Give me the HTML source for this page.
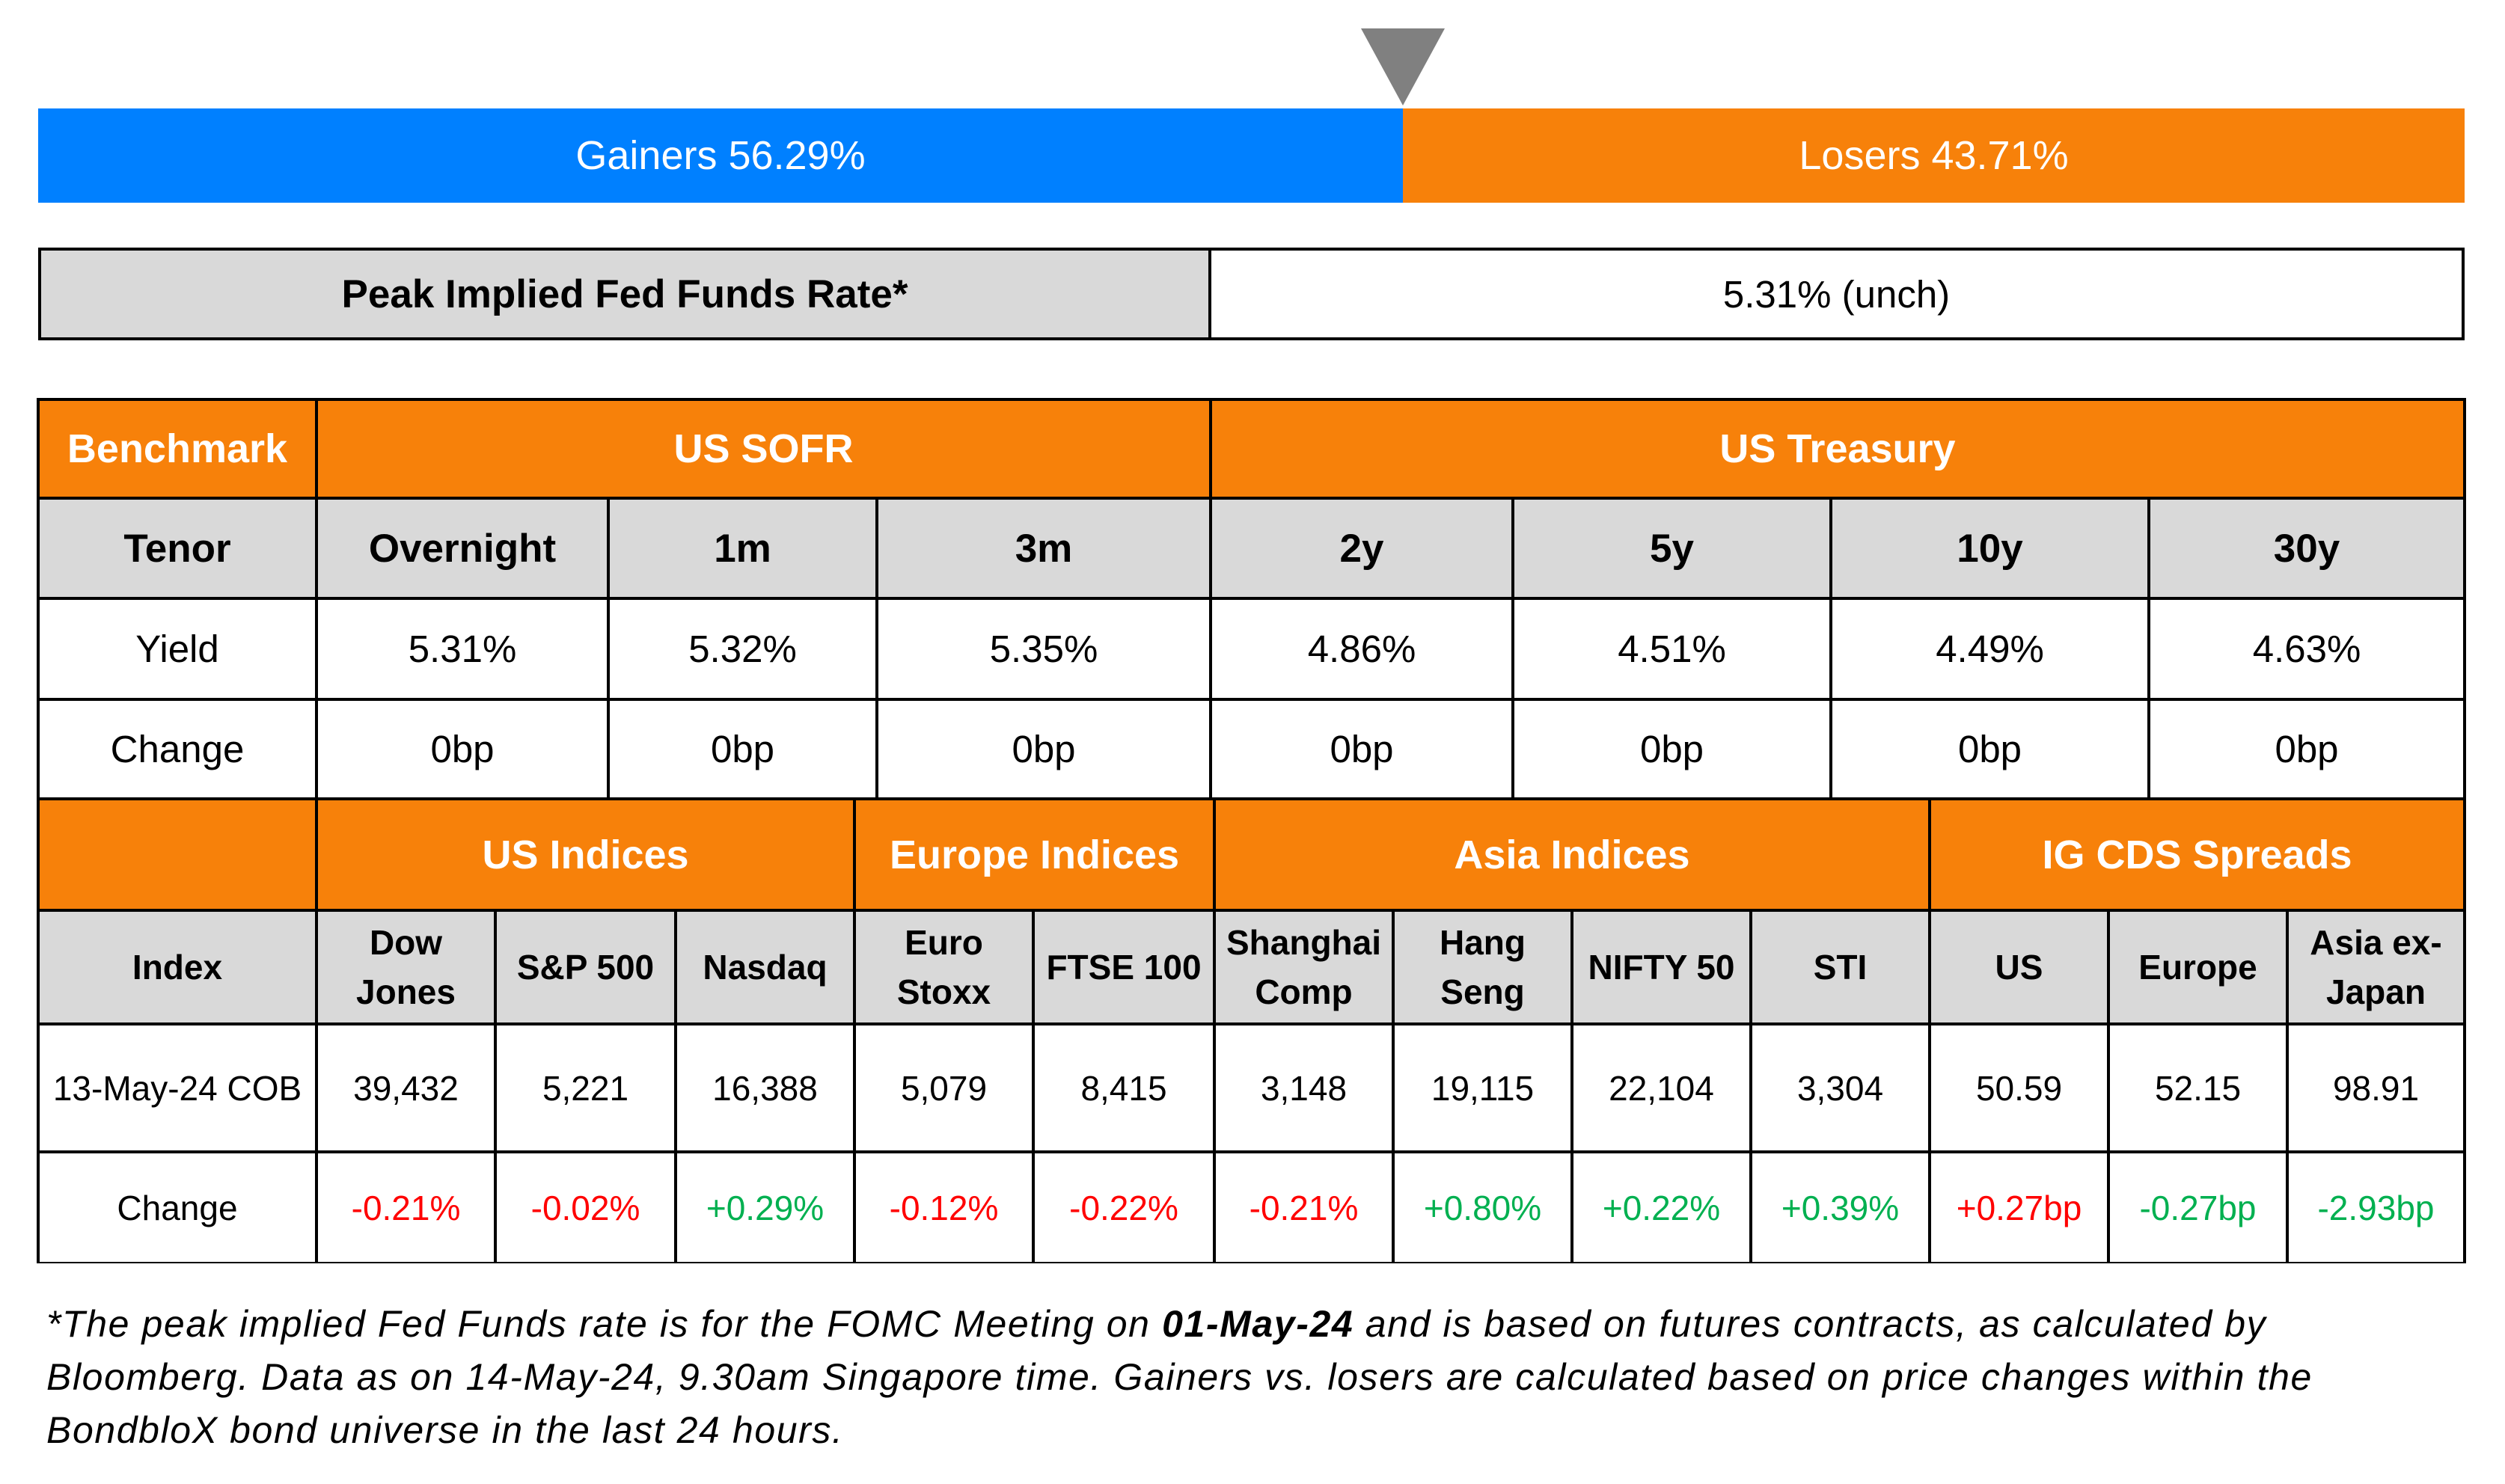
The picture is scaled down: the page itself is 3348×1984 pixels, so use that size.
<!DOCTYPE html>
<html><head><meta charset="utf-8"><style>
body{margin:0;width:3348px;height:1984px;background:#fff;position:relative;overflow:hidden;font-family:"Liberation Sans",sans-serif}
.c{position:absolute;box-sizing:border-box;border:2.5px solid #000;display:flex;align-items:center;justify-content:center;text-align:center;color:#000}
.o{background:#F7810A;color:#fff;font-weight:bold;font-size:54px}
.g{background:#D9D9D9;font-weight:bold;font-size:53px}
.w{background:#fff;font-size:51px}
.s{font-size:46px;line-height:66px}
.r{color:#FF0000}.gr{color:#00B050}
</style></head><body>
<div style="position:absolute;left:1819px;top:38px;width:0;height:0;border-left:56px solid transparent;border-right:56px solid transparent;border-top:103px solid #808080"></div>
<div style="position:absolute;left:51px;top:145px;width:1824px;height:126px;background:#0080FF;color:#fff;font-size:54px;display:flex;align-items:center;justify-content:center">Gainers 56.29%</div>
<div style="position:absolute;left:1875px;top:145px;width:1419px;height:126px;background:#F7810A;color:#fff;font-size:54px;display:flex;align-items:center;justify-content:center">Losers 43.71%</div>
<div style="position:absolute;left:51px;top:331px;width:3243px;height:124px;border:4px solid #000;box-sizing:border-box"></div>
<div class="c g" style="left:55px;top:335px;width:1564px;height:116px;border:none;border-right:4px solid #000">Peak Implied Fed Funds Rate*</div>
<div class="c w" style="left:1619px;top:335px;width:1671px;height:116px;border:none">5.31% (unch)</div>
<div style="position:absolute;left:49px;top:532px;width:3247px;height:1157px;border:2.5px solid #000;box-sizing:border-box;z-index:5;pointer-events:none"></div>
<div class="c o" style="left:51px;top:534px;width:372px;height:132px">Benchmark</div>
<div class="c o" style="left:423px;top:534px;width:1195px;height:132px">US SOFR</div>
<div class="c o" style="left:1618px;top:534px;width:1676px;height:132px">US Treasury</div>
<div class="c g" style="left:51px;top:666px;width:372px;height:134px">Tenor</div>
<div class="c g" style="left:423px;top:666px;width:390px;height:134px">Overnight</div>
<div class="c g" style="left:813px;top:666px;width:359px;height:134px">1m</div>
<div class="c g" style="left:1172px;top:666px;width:446px;height:134px">3m</div>
<div class="c g" style="left:1618px;top:666px;width:404px;height:134px">2y</div>
<div class="c g" style="left:2022px;top:666px;width:425px;height:134px">5y</div>
<div class="c g" style="left:2447px;top:666px;width:425px;height:134px">10y</div>
<div class="c g" style="left:2872px;top:666px;width:422px;height:134px">30y</div>
<div class="c w" style="left:51px;top:800px;width:372px;height:135px">Yield</div>
<div class="c w" style="left:423px;top:800px;width:390px;height:135px">5.31%</div>
<div class="c w" style="left:813px;top:800px;width:359px;height:135px">5.32%</div>
<div class="c w" style="left:1172px;top:800px;width:446px;height:135px">5.35%</div>
<div class="c w" style="left:1618px;top:800px;width:404px;height:135px">4.86%</div>
<div class="c w" style="left:2022px;top:800px;width:425px;height:135px">4.51%</div>
<div class="c w" style="left:2447px;top:800px;width:425px;height:135px">4.49%</div>
<div class="c w" style="left:2872px;top:800px;width:422px;height:135px">4.63%</div>
<div class="c w" style="left:51px;top:935px;width:372px;height:133px">Change</div>
<div class="c w" style="left:423px;top:935px;width:390px;height:133px">0bp</div>
<div class="c w" style="left:813px;top:935px;width:359px;height:133px">0bp</div>
<div class="c w" style="left:1172px;top:935px;width:446px;height:133px">0bp</div>
<div class="c w" style="left:1618px;top:935px;width:404px;height:133px">0bp</div>
<div class="c w" style="left:2022px;top:935px;width:425px;height:133px">0bp</div>
<div class="c w" style="left:2447px;top:935px;width:425px;height:133px">0bp</div>
<div class="c w" style="left:2872px;top:935px;width:422px;height:133px">0bp</div>
<div class="c o" style="left:51px;top:1068px;width:372px;height:149px"></div>
<div class="c o" style="left:423px;top:1068px;width:719px;height:149px">US Indices</div>
<div class="c o" style="left:1142px;top:1068px;width:481px;height:149px">Europe Indices</div>
<div class="c o" style="left:1623px;top:1068px;width:956px;height:149px">Asia Indices</div>
<div class="c o" style="left:2579px;top:1068px;width:715px;height:149px">IG CDS Spreads</div>
<div class="c g s" style="left:51px;top:1217px;width:372px;height:152px">Index</div>
<div class="c g s" style="left:423px;top:1217px;width:239px;height:152px">Dow<br>Jones</div>
<div class="c g s" style="left:662px;top:1217px;width:241px;height:152px">S&amp;P 500</div>
<div class="c g s" style="left:903px;top:1217px;width:239px;height:152px">Nasdaq</div>
<div class="c g s" style="left:1142px;top:1217px;width:239px;height:152px">Euro<br>Stoxx</div>
<div class="c g s" style="left:1381px;top:1217px;width:242px;height:152px">FTSE 100</div>
<div class="c g s" style="left:1623px;top:1217px;width:239px;height:152px">Shanghai<br>Comp</div>
<div class="c g s" style="left:1862px;top:1217px;width:239px;height:152px">Hang<br>Seng</div>
<div class="c g s" style="left:2101px;top:1217px;width:239px;height:152px">NIFTY 50</div>
<div class="c g s" style="left:2340px;top:1217px;width:239px;height:152px">STI</div>
<div class="c g s" style="left:2579px;top:1217px;width:239px;height:152px">US</div>
<div class="c g s" style="left:2818px;top:1217px;width:239px;height:152px">Europe</div>
<div class="c g s" style="left:3057px;top:1217px;width:237px;height:152px">Asia ex-<br>Japan</div>
<div class="c w s" style="left:51px;top:1369px;width:372px;height:171px">13-May-24 COB</div>
<div class="c w s" style="left:423px;top:1369px;width:239px;height:171px">39,432</div>
<div class="c w s" style="left:662px;top:1369px;width:241px;height:171px">5,221</div>
<div class="c w s" style="left:903px;top:1369px;width:239px;height:171px">16,388</div>
<div class="c w s" style="left:1142px;top:1369px;width:239px;height:171px">5,079</div>
<div class="c w s" style="left:1381px;top:1369px;width:242px;height:171px">8,415</div>
<div class="c w s" style="left:1623px;top:1369px;width:239px;height:171px">3,148</div>
<div class="c w s" style="left:1862px;top:1369px;width:239px;height:171px">19,115</div>
<div class="c w s" style="left:2101px;top:1369px;width:239px;height:171px">22,104</div>
<div class="c w s" style="left:2340px;top:1369px;width:239px;height:171px">3,304</div>
<div class="c w s" style="left:2579px;top:1369px;width:239px;height:171px">50.59</div>
<div class="c w s" style="left:2818px;top:1369px;width:239px;height:171px">52.15</div>
<div class="c w s" style="left:3057px;top:1369px;width:237px;height:171px">98.91</div>
<div class="c w s" style="left:51px;top:1540px;width:372px;height:149px">Change</div>
<div class="c w s r" style="left:423px;top:1540px;width:239px;height:149px">-0.21%</div>
<div class="c w s r" style="left:662px;top:1540px;width:241px;height:149px">-0.02%</div>
<div class="c w s gr" style="left:903px;top:1540px;width:239px;height:149px">+0.29%</div>
<div class="c w s r" style="left:1142px;top:1540px;width:239px;height:149px">-0.12%</div>
<div class="c w s r" style="left:1381px;top:1540px;width:242px;height:149px">-0.22%</div>
<div class="c w s r" style="left:1623px;top:1540px;width:239px;height:149px">-0.21%</div>
<div class="c w s gr" style="left:1862px;top:1540px;width:239px;height:149px">+0.80%</div>
<div class="c w s gr" style="left:2101px;top:1540px;width:239px;height:149px">+0.22%</div>
<div class="c w s gr" style="left:2340px;top:1540px;width:239px;height:149px">+0.39%</div>
<div class="c w s r" style="left:2579px;top:1540px;width:239px;height:149px">+0.27bp</div>
<div class="c w s gr" style="left:2818px;top:1540px;width:239px;height:149px">-0.27bp</div>
<div class="c w s gr" style="left:3057px;top:1540px;width:237px;height:149px">-2.93bp</div>
<div style="position:absolute;left:62px;top:1735px;font-size:50px;letter-spacing:1.6px;font-style:italic;line-height:71px;white-space:nowrap;color:#000">*The peak implied Fed Funds rate is for the FOMC Meeting on <b>01-May-24</b> and is based on futures contracts, as calculated by<br>Bloomberg. Data as on 14-May-24, 9.30am Singapore time. Gainers vs. losers are calculated based on price changes within the<br>BondbloX bond universe in the last 24 hours.</div>
</body></html>
